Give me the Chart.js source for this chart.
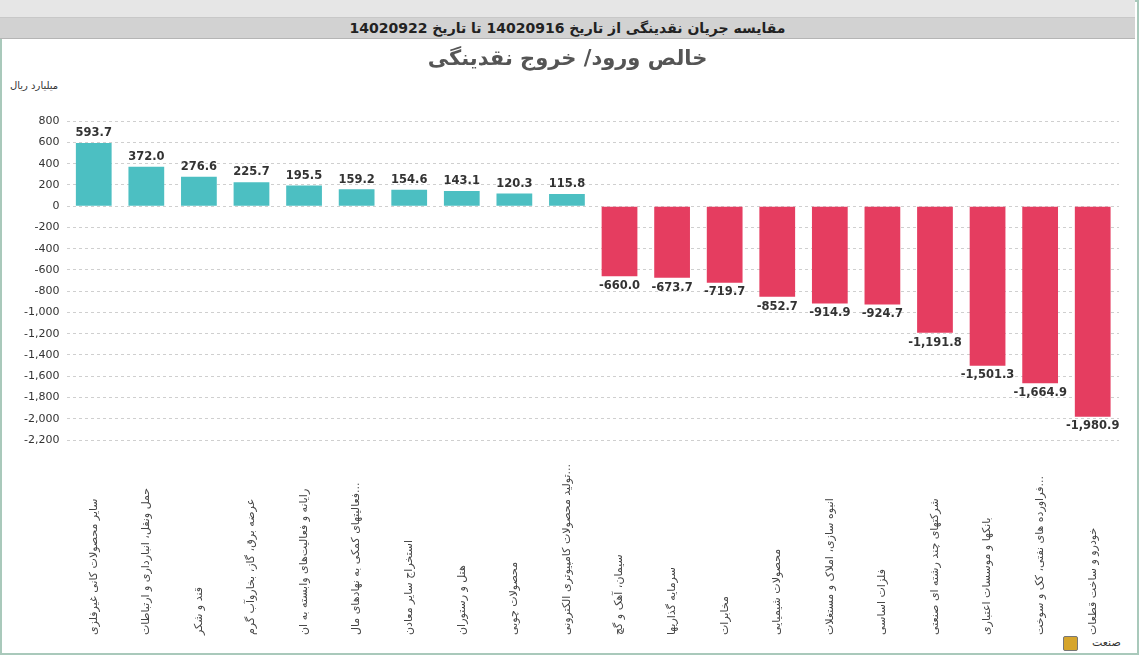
<!DOCTYPE html>
<html><head><meta charset="utf-8">
<script src="https://cdn.jsdelivr.net/npm/chart.js@4"></script>
<style>
body{margin:0;width:1139px;height:655px;overflow:hidden;background:#fff;font-family:"DejaVu Sans",sans-serif;}
#frame{position:absolute;left:0;top:0;width:1135px;height:651px;border:2px solid #a9c9bb;}
#top{position:absolute;left:0;top:0;width:1135px;height:17px;background:#e6e6e6;border-bottom:1px solid #c8c8c8;}
#bar{position:absolute;left:0;top:18px;width:1135px;height:20px;background:#d2d2d2;border-bottom:1px solid #b5b5b5;text-align:center;font:bold 14px "DejaVu Sans";line-height:20px;color:#222;}
#unit{position:absolute;left:10px;top:80px;font:10px "DejaVu Sans";color:#333;}
#cat{position:absolute;left:1092px;top:636px;font:11px "DejaVu Sans";color:#333;}
#icon{position:absolute;left:1063px;top:636px;width:13px;height:13px;background:#d6a52c;border:1px solid #777;border-radius:2px;}
#cv{position:absolute;left:2px;top:39px;}
</style></head><body>
<div id="frame"></div><div id="top"></div>
<div id="bar">مقایسه جریان نقدینگی از تاریخ 14020916 تا تاریخ 14020922</div>
<div id="unit">میلیارد ریال</div>
<div id="cat">صنعت</div><div id="icon"></div>
<canvas id="cv" width="1135" height="614"></canvas>
<script>
const categories=["سایر محصولات کانی غیرفلزی","حمل ونقل، انبارداری و ارتباطات","قند و شکر","عرضه برق، گاز، بخاروآب گرم","رایانه و فعالیت‌های وابسته به ان","فعالیتهای کمکی به نهادهای مال...","استخراج سایر معادن","هتل و رستوران","محصولات چوبی","تولید محصولات کامپیوتری الکترونی...","سیمان، آهک و گچ","سرمایه گذاریها","مخابرات","محصولات شیمیایی","انبوه سازی، املاک و مستغلات","فلزات اساسی","شرکتهای چند رشته ای صنعتی","بانکها و موسسات اعتباری","فراورده های نفتی، کک و سوخت...","خودرو و ساخت قطعات"];
const values=[593.7,372.0,276.6,225.7,195.5,159.2,154.6,143.1,120.3,115.8,-660.0,-673.7,-719.7,-852.7,-914.9,-924.7,-1191.8,-1501.3,-1664.9,-1980.9];
const fmt=v=>v.toLocaleString('en-US',{minimumFractionDigits:1,maximumFractionDigits:1});
const labelsPlugin={id:'lbl',afterDatasetsDraw(c){
 const ctx=c.ctx,meta=c.getDatasetMeta(0),xs=c.scales.x;
 ctx.save();ctx.font='bold 11.5px "DejaVu Sans"';ctx.fillStyle='#333';ctx.textAlign='center';
 meta.data.forEach((b,i)=>{const v=values[i];
  if(v>=0){ctx.textBaseline='bottom';ctx.fillText(fmt(v),b.x,b.y-4);}else{ctx.textBaseline='top';ctx.fillText(fmt(v),b.x,b.y+4);}});
 ctx.font='11px "DejaVu Sans"';ctx.fillStyle='#444';ctx.textAlign='left';ctx.textBaseline='middle';
 categories.forEach((t,i)=>{const x=xs.getPixelForValue(i);ctx.save();ctx.translate(x,596);ctx.rotate(-Math.PI/2);ctx.fillText(t,0,0);ctx.restore();});
 ctx.restore();}};
new Chart(document.getElementById('cv'),{type:'bar',
 data:{labels:categories,datasets:[{data:values,backgroundColor:values.map(v=>v>=0?'#4cbfc2':'#e53d60'),barPercentage:0.68,categoryPercentage:1}]},
 options:{responsive:false,animation:false,
  layout:{padding:{left:14,right:18,top:0,bottom:205}},
  plugins:{legend:{display:false},tooltip:{enabled:false},
   title:{display:true,text:'خالص ورود/ خروج نقدینگی',font:{size:21,weight:'bold',family:'DejaVu Sans'},color:'#555',padding:{top:8,bottom:49}}},
  scales:{x:{ticks:{display:false},grid:{display:false},border:{display:false}},
   y:{min:-2200,max:800,ticks:{stepSize:200,font:{size:11,family:'DejaVu Sans'},color:'#333',padding:8},
    grid:{color:'#cfcfcf',tickLength:0},border:{display:false,dash:[3,3]}}}},
 plugins:[labelsPlugin]});
</script></body></html>
